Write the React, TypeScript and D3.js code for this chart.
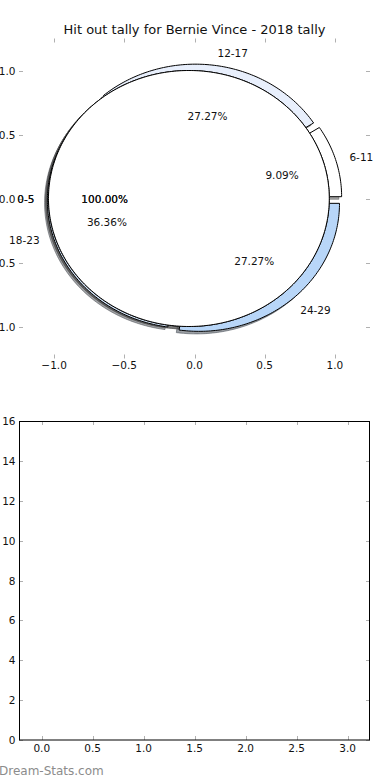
import * as d3 from 'd3';

// data
const chartTitle = 'Hit out tally for Bernie Vince - 2018 tally';
const ageGroups = ['6-11', '12-17', '18-23', '24-29'];
const ageTallies = [1, 3, 4, 3];
const ageColors = ['#ffffff', '#e8effc', '#d3e4f8', '#b8d6f8'];
const zeroGroups = ['0-5'];
const zeroTallies = [1];
const zeroColors = ['#ffffff'];
const pieTicks = [-1, -0.5, 0, 0.5, 1];
const barXTicks = [0, 0.5, 1, 1.5, 2, 2.5, 3];
const barYTicks = [0, 2, 4, 6, 8, 10, 12, 14, 16];

const W = 390;
const H = 780;
const FONT = '"DejaVu Sans", sans-serif';
const TICK = '#b0b0b0';

type Pt = [number, number];

export default function App() {
  const left = 19;
  const right = 370;

  // top panel (pie, matplotlib style axes)
  const px = d3.scaleLinear().domain([-1.25, 1.25]).range([left, right]);
  const py = d3.scaleLinear().domain([-1.25, 1.25]).range([358.5, 38.5]);

  // bottom panel (empty bar axes)
  const bx = d3.scaleLinear().domain([-0.223, 3.22]).range([left, right]);
  const by = d3.scaleLinear().domain([0, 16]).range([740, 421]);

  const line = d3.line<Pt>().x(p => px(p[0])).y(p => py(p[1]));

  const wedgePath = (cx: number, cy: number, a0: number, a1: number) => {
    const full = a1 - a0 >= Math.PI * 2 - 1e-6;
    const n = Math.max(4, Math.ceil(((a1 - a0) * 180) / Math.PI));
    const pts: Pt[] = d3.range(n + 1).map(i => {
      const a = a0 + ((a1 - a0) * i) / n;
      return [cx + Math.cos(a), cy + Math.sin(a)];
    });
    if (!full) pts.unshift([cx, cy]);
    return line(pts) + 'Z';
  };

  const pie = d3.pie<number>().sort(null).startAngle(0).endAngle(Math.PI * 2);

  const layout = (names: string[], vals: number[], colors: string[], explode: number) => {
    const total = d3.sum(vals);
    return pie(vals).map((d, i) => {
      const mid = (d.startAngle + d.endAngle) / 2;
      const cx = explode * Math.cos(mid);
      const cy = explode * Math.sin(mid);
      return {
        name: names[i],
        color: colors[i],
        a0: d.startAngle,
        a1: d.endAngle,
        cx,
        cy,
        lx: cx + 1.1 * Math.cos(mid),
        ly: cy + 1.1 * Math.sin(mid),
        tx: cx + 0.6 * Math.cos(mid),
        ty: cy + 0.6 * Math.sin(mid),
        pct: d3.format('.2f')((d.value / total) * 100) + '%',
      };
    });
  };

  const ageWedges = layout(ageGroups, ageTallies, ageColors, 0.05);
  // the single 0-5 pie is drawn twice in the source, hence the heavier text
  const zeroWedges = [
    ...layout(zeroGroups, zeroTallies, zeroColors, 0.04),
    ...layout(zeroGroups, zeroTallies, zeroColors, 0.04),
  ];
  const allWedges = [...ageWedges, ...zeroWedges];

  const shadowColor = (c: string) => {
    const r = d3.rgb(c);
    return d3.rgb(r.r * 0.3, r.g * 0.3, r.b * 0.3).toString();
  };

  const txt = { fontFamily: FONT, fontSize: 10.5, fill: '#111' } as const;

  return (
    <svg width={W} height={H} style={{ position: 'absolute', left: 0, top: 0, background: '#fff' }}>
      <text x={194.5} y={34} textAnchor="middle" style={{ fontFamily: FONT, fontSize: 13, fill: '#111' }}>
        {chartTitle}
      </text>

      {/* pie axes ticks (no spines) */}
      <g stroke={TICK} strokeWidth={1}>
        {pieTicks.map(t => (
          <g key={'px' + t}>
            <line x1={Math.round(px(t)) + 0.5} x2={Math.round(px(t)) + 0.5} y1={38.5} y2={42.5} />
            <line x1={Math.round(px(t)) + 0.5} x2={Math.round(px(t)) + 0.5} y1={358.5} y2={354.5} />
          </g>
        ))}
        {pieTicks.map(t => (
          <g key={'py' + t}>
            <line x1={left} x2={left + 4} y1={Math.round(py(t)) + 0.5} y2={Math.round(py(t)) + 0.5} />
            <line x1={right} x2={right - 4} y1={Math.round(py(t)) + 0.5} y2={Math.round(py(t)) + 0.5} />
          </g>
        ))}
      </g>
      {pieTicks.map(t => (
        <text key={'pxl' + t} x={px(t)} y={365} textAnchor="middle" dominantBaseline="central" style={txt}>
          {d3.format('.1f')(t).replace('-', '\u2212')}
        </text>
      ))}
      {pieTicks.map(t => (
        <text key={'pyl' + t} x={left - 3.5} y={py(t)} textAnchor="end" dominantBaseline="central" style={txt}>
          {d3.format('.1f')(t).replace('-', '\u2212')}
        </text>
      ))}

      {/* shadows sit under every wedge */}
      {allWedges.map((w, i) => {
        const sc = shadowColor(w.color);
        return (
          <path
            key={'sh' + i}
            d={wedgePath(w.cx - 0.02, w.cy - 0.02, w.a0, w.a1)}
            fill={sc}
            fillOpacity={0.5}
            stroke={sc}
            strokeOpacity={0.5}
            strokeWidth={1}
          />
        );
      })}
      {allWedges.map((w, i) => (
        <path key={'w' + i} d={wedgePath(w.cx, w.cy, w.a0, w.a1)} fill={w.color} stroke="#000" strokeWidth={1} />
      ))}
      {allWedges.map((w, i) => (
        <g key={'l' + i}>
          <text
            x={px(w.lx)}
            y={py(w.ly)}
            textAnchor={w.lx > 0 ? 'start' : 'end'}
            dominantBaseline="central"
            style={txt}
          >
            {w.name}
          </text>
          <text x={px(w.tx)} y={py(w.ty)} textAnchor="middle" dominantBaseline="central" style={txt}>
            {w.pct}
          </text>
        </g>
      ))}

      {/* bottom, empty axes */}
      <g stroke={TICK} strokeWidth={1}>
        {barXTicks.map(t => (
          <g key={'bx' + t}>
            <line x1={Math.round(bx(t)) + 0.5} x2={Math.round(bx(t)) + 0.5} y1={421} y2={425} />
            <line x1={Math.round(bx(t)) + 0.5} x2={Math.round(bx(t)) + 0.5} y1={740} y2={736} />
          </g>
        ))}
        {barYTicks.map(t => (
          <g key={'by' + t}>
            <line x1={left} x2={left + 4} y1={Math.round(by(t)) + 0.5} y2={Math.round(by(t)) + 0.5} />
            <line x1={right} x2={right - 4} y1={Math.round(by(t)) + 0.5} y2={Math.round(by(t)) + 0.5} />
          </g>
        ))}
      </g>
      <rect x={left + 0.5} y={421.5} width={right - left - 1} height={318.5} fill="none" stroke="#000" strokeWidth={1} />
      {barXTicks.map(t => (
        <text key={'bxl' + t} x={bx(t)} y={748} textAnchor="middle" dominantBaseline="central" style={txt}>
          {d3.format('.1f')(t)}
        </text>
      ))}
      {barYTicks.map(t => (
        <text key={'byl' + t} x={left - 3.5} y={by(t)} textAnchor="end" dominantBaseline="central" style={txt}>
          {t}
        </text>
      ))}

      <text x={-1} y={775} style={{ fontFamily: FONT, fontSize: 12, fill: '#8c8c8c' }}>
        Dream-Stats.com
      </text>
    </svg>
  );
}
